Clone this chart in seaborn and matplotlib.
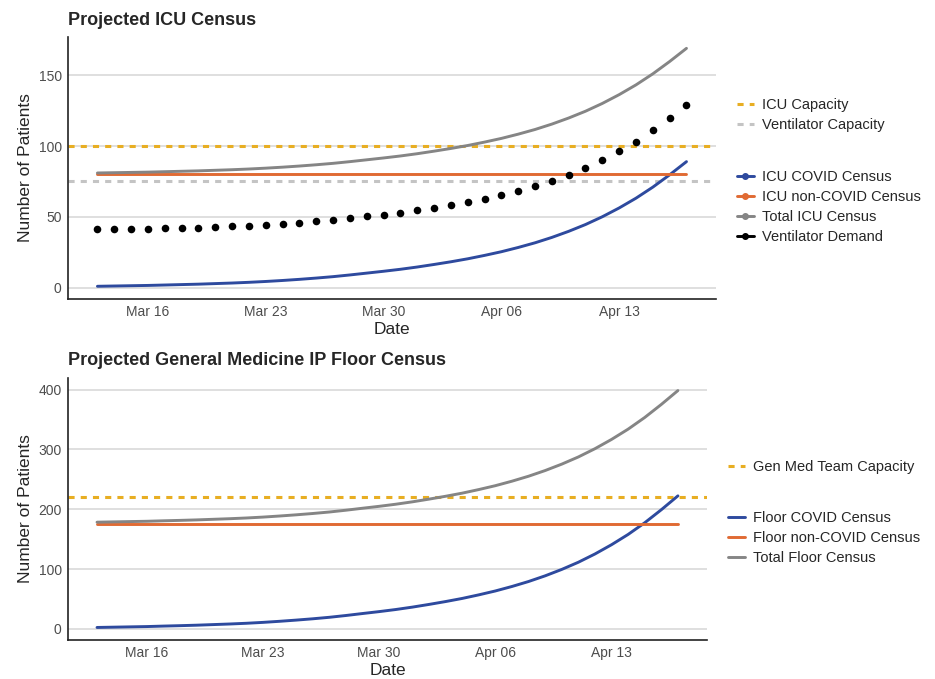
import pandas as pd
import matplotlib
matplotlib.use("Agg")
import matplotlib.pyplot as plt
import matplotlib.dates as mdates
from matplotlib.lines import Line2D
import seaborn as sns

# Projection data (Mar 13 - Apr 17 2020)
dates = pd.date_range("2020-03-13", "2020-04-17", freq="D")

icu_covid = [1.0, 1.2, 1.4, 1.6, 1.9, 2.2, 2.5, 2.9, 3.3, 3.8, 4.4, 5.1,
             5.9, 6.8, 7.8, 9.0, 10.3, 11.6, 13.0, 14.6, 16.4, 18.3, 20.4, 22.8,
             25.4, 28.4, 31.7, 35.5, 39.8, 44.6, 50.1, 56.3, 63.2, 71.0, 79.7, 89.0]
icu_non_covid = [80] * 36
icu_total = [81.0, 81.2, 81.4, 81.6, 81.9, 82.2, 82.5, 82.9, 83.3, 83.8, 84.4, 85.1,
             85.9, 86.8, 87.8, 89.0, 90.3, 91.6, 93.0, 94.6, 96.4, 98.3, 100.4, 102.8,
             105.4, 108.4, 111.7, 115.5, 119.8, 124.6, 130.1, 136.3, 143.2, 151.0, 159.7, 169.0]
vent_demand = [41.1, 41.2, 41.4, 41.6, 41.9, 42.2, 42.5, 42.9, 43.3, 43.8, 44.4, 45.1,
               45.9, 46.8, 47.8, 49.0, 50.3, 51.6, 53.0, 54.6, 56.4, 58.3, 60.4, 62.8,
               65.4, 68.4, 71.7, 75.5, 79.8, 84.6, 90.1, 96.3, 103.2, 111.0, 119.7, 129.0]
icu_capacity = 100
vent_capacity = 75

floor_covid = [2.5, 3.0, 3.5, 4.0, 4.8, 5.5, 6.3, 7.3, 8.3, 9.5, 11.0, 12.8,
               14.8, 17.0, 19.5, 22.5, 25.8, 29.0, 32.5, 36.5, 41.0, 45.8, 51.0, 57.0,
               63.5, 71.0, 79.3, 88.8, 99.5, 111.5, 125.3, 140.8, 158.0, 177.5, 199.3, 222.5]
floor_non_covid = [176] * 36
floor_total = [178.5, 179.0, 179.5, 180.0, 180.8, 181.5, 182.3, 183.3, 184.3, 185.5, 187.0, 188.8,
               190.8, 193.0, 195.5, 198.5, 201.8, 205.0, 208.5, 212.5, 217.0, 221.8, 227.0, 233.0,
               239.5, 247.0, 255.3, 264.8, 275.5, 287.5, 301.3, 316.8, 334.0, 353.5, 375.3, 398.5]
gen_med_capacity = 220

blue = "#2E4A9E"
orange = "#E06A33"
grey = "#858585"
gold = "#E8AE22"
light = "#C4C4C4"
dash = (0, (2, 2))

sns.set_theme(style="white")
plt.rcParams["font.family"] = ["Liberation Sans", "DejaVu Sans"]

icu_df = pd.DataFrame({"Date": dates,
                       "ICU COVID Census": icu_covid,
                       "ICU non-COVID Census": icu_non_covid,
                       "Total ICU Census": icu_total})
icu_long = icu_df.melt(id_vars="Date", var_name="Series", value_name="Patients")
vent_df = pd.DataFrame({"Date": dates, "Ventilator Demand": vent_demand})

floor_df = pd.DataFrame({"Date": dates,
                         "Floor COVID Census": floor_covid,
                         "Floor non-COVID Census": floor_non_covid,
                         "Total Floor Census": floor_total})
floor_long = floor_df.melt(id_vars="Date", var_name="Series", value_name="Patients")

fig = plt.figure(figsize=(9.35, 6.79), dpi=100)
ax1 = fig.add_axes([0.0727, 0.5596, 0.693, 0.3859])
ax2 = fig.add_axes([0.0727, 0.0574, 0.6834, 0.3859])

# top panel: ICU
ax1.axhline(icu_capacity, color=gold, lw=2.2, ls=dash, zorder=1)
ax1.axhline(vent_capacity, color=light, lw=2.2, ls=dash, zorder=1)
sns.lineplot(data=icu_long, x="Date", y="Patients", hue="Series",
             palette=[blue, orange, grey], linewidth=2.1, ax=ax1, legend=False, zorder=2)
sns.scatterplot(data=vent_df, x="Date", y="Ventilator Demand", color="black",
                s=30, linewidth=0, ax=ax1, legend=False, zorder=3)
ax1.set_ylim(-8, 177)
ax1.set_yticks([0, 50, 100, 150])
ax1.set_title("Projected ICU Census", loc="left", fontweight="bold", fontsize=13, pad=9)

# bottom panel: general medicine floor
ax2.axhline(gen_med_capacity, color=gold, lw=2.2, ls=dash, zorder=1)
sns.lineplot(data=floor_long, x="Date", y="Patients", hue="Series",
             palette=[blue, orange, grey], linewidth=2.1, ax=ax2, legend=False, zorder=2)
ax2.set_ylim(-18.5, 419.5)
ax2.set_yticks([0, 100, 200, 300, 400])
ax2.set_title("Projected General Medicine IP Floor Census", loc="left",
              fontweight="bold", fontsize=13, pad=9)

pad = pd.Timedelta(hours=42)
for ax in (ax1, ax2):
    ax.set_xlim(dates[0] - pad, dates[-1] + pad)
    ax.xaxis.set_major_locator(mdates.WeekdayLocator(byweekday=mdates.MO))
    ax.xaxis.set_major_formatter(mdates.DateFormatter("%b %d"))
    ax.set_xlabel("Date", fontsize=12.5, labelpad=2)
    ax.set_ylabel("Number of Patients", fontsize=12.5, labelpad=4)
    ax.yaxis.grid(True, color="#D6D6D6", lw=1.1)
    ax.xaxis.grid(False)
    ax.set_axisbelow(True)
    for s in ["top", "right"]:
        ax.spines[s].set_visible(False)
    for s in ["left", "bottom"]:
        ax.spines[s].set_color("#222222")
        ax.spines[s].set_linewidth(1.2)
    ax.tick_params(axis="both", length=3, width=1, color="#333333",
                   labelcolor="#4D4D4D", labelsize=10, pad=1.5)

# legends
leg_kw = dict(frameon=False, fontsize=10.5, handlelength=1.15, handletextpad=0.55,
              labelspacing=0.4, borderpad=0, borderaxespad=0, loc="center left")

cap1 = [Line2D([], [], color=gold, lw=2.2, ls=dash),
        Line2D([], [], color=light, lw=2.2, ls=dash)]
fig.legend(cap1, ["ICU Capacity", "Ventilator Capacity"],
           bbox_to_anchor=(0.788, 0.8306), **leg_kw)
ser1 = [Line2D([], [], color=c, lw=2.1, marker="o", markersize=4)
        for c in [blue, orange, grey, "black"]]
fig.legend(ser1, ["ICU COVID Census", "ICU non-COVID Census", "Total ICU Census",
                  "Ventilator Demand"], bbox_to_anchor=(0.788, 0.6951), **leg_kw)

cap2 = [Line2D([], [], color=gold, lw=2.2, ls=dash)]
fig.legend(cap2, ["Gen Med Team Capacity"], bbox_to_anchor=(0.779, 0.3122), **leg_kw)
ser2 = [Line2D([], [], color=c, lw=2.1) for c in [blue, orange, grey]]
fig.legend(ser2, ["Floor COVID Census", "Floor non-COVID Census", "Total Floor Census"],
           bbox_to_anchor=(0.779, 0.2077), **leg_kw)

fig.savefig("out.png", dpi=100)
